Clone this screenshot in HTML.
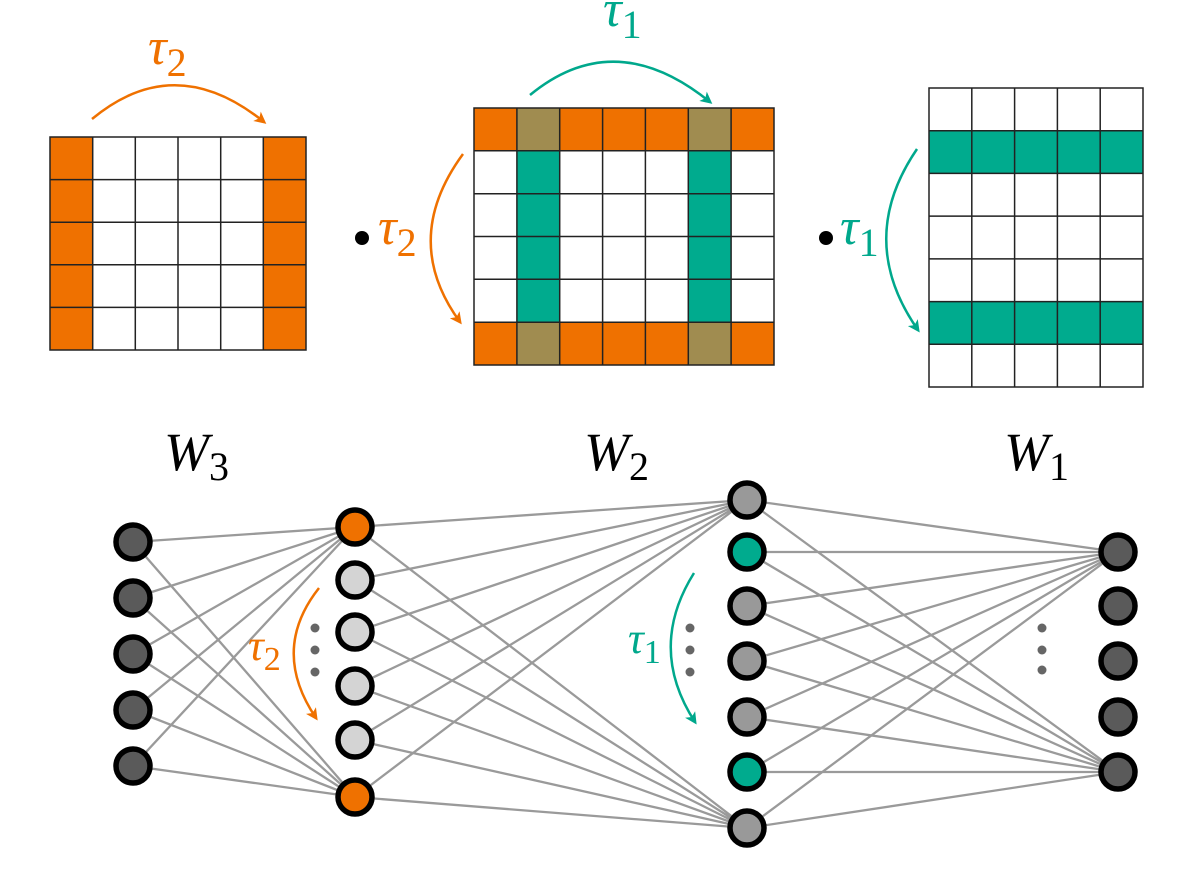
<!DOCTYPE html>
<html><head><meta charset="utf-8"><style>html,body{margin:0;padding:0;background:#fff}svg{display:block}text{font-family:"Liberation Serif","DejaVu Serif",serif}</style></head><body>
<svg width="1200" height="873" viewBox="0 0 1200 873" xmlns="http://www.w3.org/2000/svg">
<defs>
<marker id="ao" markerWidth="12" markerHeight="12" refX="9" refY="6" orient="auto" markerUnits="userSpaceOnUse"><path d="M0,0 L12,6 L0,12 L3,6 Z" fill="#ef7100"/></marker>
<marker id="at" markerWidth="12" markerHeight="12" refX="9" refY="6" orient="auto" markerUnits="userSpaceOnUse"><path d="M0,0 L12,6 L0,12 L3,6 Z" fill="#00a88c"/></marker>
</defs>
<rect x="50" y="137" width="256" height="213" fill="#fff"/>
<rect x="50" y="137" width="42.7" height="213" fill="#ef7100"/>
<rect x="263.3" y="137" width="42.7" height="213" fill="#ef7100"/>
<g stroke="#222" stroke-width="1.5" fill="none">
<rect x="50" y="137" width="256" height="213"/>
<path d="M92.7,137V350M135.3,137V350M178,137V350M220.7,137V350M263.3,137V350M50,179.6H306M50,222.2H306M50,264.8H306M50,307.4H306"/>
</g>
<rect x="474" y="108" width="300" height="257" fill="#fff"/>
<rect x="474" y="108" width="300" height="42.8" fill="#ef7100"/>
<rect x="474" y="322.2" width="300" height="42.8" fill="#ef7100"/>
<rect x="516.9" y="150.8" width="42.9" height="171.4" fill="#00ab8e"/>
<rect x="688.3" y="150.8" width="42.9" height="171.4" fill="#00ab8e"/>
<rect x="516.9" y="108" width="42.9" height="42.8" fill="#a08c50"/>
<rect x="688.3" y="108" width="42.9" height="42.8" fill="#a08c50"/>
<rect x="516.9" y="322.2" width="42.9" height="42.8" fill="#a08c50"/>
<rect x="688.3" y="322.2" width="42.9" height="42.8" fill="#a08c50"/>
<g stroke="#222" stroke-width="1.5" fill="none">
<rect x="474" y="108" width="300" height="257"/>
<path d="M516.9,108V365M559.7,108V365M602.6,108V365M645.4,108V365M688.3,108V365M731.1,108V365M474,150.8H774M474,193.7H774M474,236.5H774M474,279.3H774M474,322.2H774"/>
</g>
<rect x="929" y="88" width="214" height="299" fill="#fff"/>
<rect x="929" y="130.7" width="214" height="42.7" fill="#00ab8e"/>
<rect x="929" y="301.6" width="214" height="42.7" fill="#00ab8e"/>
<g stroke="#222" stroke-width="1.5" fill="none">
<rect x="929" y="88" width="214" height="299"/>
<path d="M971.8,88V387M1014.6,88V387M1057.4,88V387M1100.2,88V387M929,130.7H1143M929,173.4H1143M929,216.1H1143M929,258.9H1143M929,301.6H1143M929,344.3H1143"/>
</g>
<path d="M92,119 Q175,50 264,122" stroke="#ef7100" stroke-width="2.5" fill="none" marker-end="url(#ao)"/>
<text x="148" y="64" font-size="52" font-style="italic" fill="#ef7100">τ<tspan font-size="40" font-style="normal" dy="12">2</tspan></text>
<path d="M530,95 Q615,25 710,102" stroke="#00a88c" stroke-width="2.5" fill="none" marker-end="url(#at)"/>
<text x="603" y="26" font-size="52" font-style="italic" fill="#00a88c">τ<tspan font-size="40" font-style="normal" dy="12">1</tspan></text>
<path d="M463,154 Q400,240 460,322" stroke="#ef7100" stroke-width="2.5" fill="none" marker-end="url(#ao)"/>
<circle cx="362" cy="238" r="7" fill="#000"/>
<text x="378" y="244" font-size="52" font-style="italic" fill="#ef7100">τ<tspan font-size="40" font-style="normal" dy="12">2</tspan></text>
<path d="M917,149 Q855,240 918,330" stroke="#00a88c" stroke-width="2.5" fill="none" marker-end="url(#at)"/>
<circle cx="826" cy="238" r="7" fill="#000"/>
<text x="840" y="244" font-size="52" font-style="italic" fill="#00a88c">τ<tspan font-size="40" font-style="normal" dy="12">1</tspan></text>
<text x="164" y="470" font-size="54" font-style="italic" fill="#000">W<tspan font-size="40" font-style="normal" dy="10">3</tspan></text>
<text x="584" y="470" font-size="54" font-style="italic" fill="#000">W<tspan font-size="40" font-style="normal" dy="10">2</tspan></text>
<text x="1004" y="470" font-size="54" font-style="italic" fill="#000">W<tspan font-size="40" font-style="normal" dy="10">1</tspan></text>
<g stroke="#9a9a9a" stroke-width="2.3">
<path d="M133,542L355,527M133,598L355,527M133,654L355,527M133,710L355,527M133,766L355,527M133,542L355,797M133,598L355,797M133,654L355,797M133,710L355,797M133,766L355,797"/>
<path d="M355,527L747,500M355,580L747,500M355,632L747,500M355,686L747,500M355,740L747,500M355,797L747,500M355,527L747,828M355,580L747,828M355,632L747,828M355,686L747,828M355,740L747,828M355,797L747,828"/>
<path d="M747,500L1118,552M747,552L1118,552M747,606L1118,552M747,661L1118,552M747,717L1118,552M747,772L1118,552M747,828L1118,552M747,500L1118,772M747,552L1118,772M747,606L1118,772M747,661L1118,772M747,717L1118,772M747,772L1118,772M747,828L1118,772"/>
</g>
<g stroke="#000" stroke-width="5.5">
<g fill="#5a5a5a"><circle cx="133" cy="542" r="17"/><circle cx="133" cy="598" r="17"/><circle cx="133" cy="654" r="17"/><circle cx="133" cy="710" r="17"/><circle cx="133" cy="766" r="17"/></g>
<circle cx="355" cy="527" r="17" fill="#ef7100"/>
<g fill="#d4d4d4"><circle cx="355" cy="580" r="17"/><circle cx="355" cy="632" r="17"/><circle cx="355" cy="686" r="17"/><circle cx="355" cy="740" r="17"/></g>
<circle cx="355" cy="797" r="17" fill="#ef7100"/>
<g fill="#999"><circle cx="747" cy="500" r="17"/><circle cx="747" cy="606" r="17"/><circle cx="747" cy="661" r="17"/><circle cx="747" cy="717" r="17"/><circle cx="747" cy="828" r="17"/></g>
<g fill="#00ab8e"><circle cx="747" cy="552" r="17"/><circle cx="747" cy="772" r="17"/></g>
<g fill="#5a5a5a"><circle cx="1118" cy="552" r="17"/><circle cx="1118" cy="606" r="17"/><circle cx="1118" cy="661" r="17"/><circle cx="1118" cy="717" r="17"/><circle cx="1118" cy="772" r="17"/></g>
</g>
<g fill="#666"><circle cx="315" cy="628" r="4.5"/><circle cx="315" cy="650" r="4.5"/><circle cx="315" cy="672" r="4.5"/>
<circle cx="690" cy="628" r="4.5"/><circle cx="690" cy="650" r="4.5"/><circle cx="690" cy="672" r="4.5"/>
<circle cx="1042" cy="628" r="4.5"/><circle cx="1042" cy="650" r="4.5"/><circle cx="1042" cy="670" r="4.5"/></g>
<path d="M319,588 Q270,650 316,718" stroke="#ef7100" stroke-width="2.5" fill="none" marker-end="url(#ao)"/>
<text x="248" y="660" font-size="44" font-style="italic" fill="#ef7100">τ<tspan font-size="34" font-style="normal" dy="10">2</tspan></text>
<path d="M694,573 Q647,648 695,722" stroke="#00a88c" stroke-width="2.5" fill="none" marker-end="url(#at)"/>
<text x="628" y="653" font-size="44" font-style="italic" fill="#00a88c">τ<tspan font-size="34" font-style="normal" dy="10">1</tspan></text>
</svg>
</body></html>
